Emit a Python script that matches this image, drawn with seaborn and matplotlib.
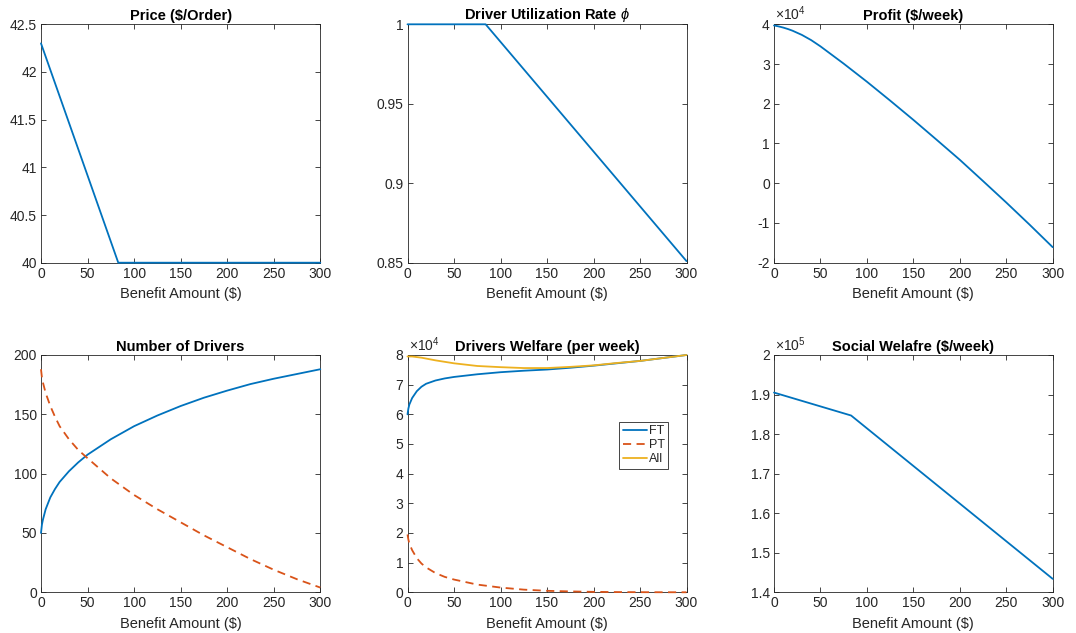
import matplotlib
matplotlib.use("Agg")
import numpy as np
import pandas as pd
import seaborn as sns
import matplotlib.pyplot as plt
from matplotlib.ticker import FuncFormatter, MultipleLocator

# ---------------- data ----------------
benefit_price = [0, 83, 300]
price = [42.3, 40.0, 40.0]

benefit_util = [0, 84, 300]
utilization = [1.0, 1.0, 0.851]

benefit_grid = [0, 1, 2, 5, 10, 15, 20, 30, 40, 50, 75, 100, 125, 150, 175, 200, 225, 250, 275, 300]

profit_x1e4 = [3.97, 3.966, 3.962, 3.947, 3.917, 3.881, 3.838, 3.733, 3.602, 3.445, 3.01, 2.555,
               2.08, 1.595, 1.095, 0.59, 0.055, -0.485, -1.04, -1.61]

drivers_ft = [50, 57, 61, 70, 80, 87, 93, 102, 109.5, 116, 129, 140, 149, 157, 164, 170, 175.5, 180, 184, 188]
drivers_pt = [188, 181, 177, 168, 157, 148, 140, 129, 120, 113, 96, 82, 70, 59, 48, 38, 28, 19, 11, 4]

welfare_ft_x1e4 = [6.0, 6.2, 6.33, 6.55, 6.78, 6.93, 7.03, 7.14, 7.21, 7.26, 7.35, 7.42, 7.47, 7.51,
                   7.57, 7.64, 7.72, 7.8, 7.9, 8.0]
welfare_pt_x1e4 = [1.95, 1.77, 1.64, 1.42, 1.15, 0.97, 0.84, 0.65, 0.52, 0.43, 0.26, 0.16, 0.09, 0.05,
                   0.03, 0.015, 0.008, 0.004, 0.002, 0.001]
welfare_all_x1e4 = [7.95, 7.95, 7.95, 7.95, 7.93, 7.91, 7.88, 7.82, 7.77, 7.72, 7.63, 7.59, 7.56, 7.56,
                    7.6, 7.65, 7.73, 7.8, 7.9, 8.0]

benefit_social = [0, 83, 300]
social_x1e5 = [1.905, 1.847, 1.434]

titles = ["Price (\\$/Order)", r"Driver Utilization Rate $\phi$", "Profit (\\$/week)",
          "Number of Drivers", "Drivers Welfare (per week)", "Social Welafre (\\$/week)"]
xlabel = "Benefit Amount (\\$)"
legend_labels = ["FT", "PT", "All"]

# ---------------- style ----------------
sns.set_style("ticks")
plt.rcParams.update({
    "font.family": ["Liberation Sans", "DejaVu Sans"],
    "mathtext.fontset": "custom",
    "mathtext.rm": "Liberation Sans",
    "mathtext.it": "Liberation Sans:italic",
    "axes.unicode_minus": False,
    "xtick.direction": "in",
    "ytick.direction": "in",
    "xtick.top": True,
    "ytick.right": True,
    "xtick.major.size": 3.5,
    "ytick.major.size": 3.5,
    "xtick.major.width": 0.6,
    "ytick.major.width": 0.6,
    "axes.linewidth": 0.6,
    "axes.edgecolor": "#262626",
    "xtick.color": "#262626",
    "ytick.color": "#262626",
    "xtick.labelsize": 10,
    "ytick.labelsize": 10,
    "xtick.labelcolor": "#262626",
    "ytick.labelcolor": "#262626",
})

BLUE = "#0072BD"
ORANGE = "#D95319"
YELLOW = "#EDB120"
LW = 1.3
LINE_KW = dict(lw=LW, zorder=3, clip_on=False)

W, H = 1076, 633
fig = plt.figure(figsize=(W / 100, H / 100), dpi=100)

cols = [(41, 320.3), (407.5, 686.5), (774, 1052.7)]
rows = [(24.3, 262.7), (355, 592.3)]

axes = []
for r in rows:
    for c in cols:
        ax = fig.add_axes([c[0] / W, 1 - r[1] / H, (c[1] - c[0]) / W, (r[1] - r[0]) / H])
        axes.append(ax)

gfmt = FuncFormatter(lambda v, p: f"{v:g}")


def scaled_fmt(scale):
    return FuncFormatter(lambda v, p: f"{v / scale:g}")


def finish(ax, title, ylim, ystep, scale=None, exp=None):
    ax.set_xlim(0, 300)
    ax.xaxis.set_major_locator(MultipleLocator(50))
    ax.xaxis.set_major_formatter(gfmt)
    ax.set_ylim(*ylim)
    ax.yaxis.set_major_locator(MultipleLocator(ystep))
    if scale is None:
        ax.yaxis.set_major_formatter(gfmt)
    else:
        ax.yaxis.set_major_formatter(scaled_fmt(scale))
        ax.text(0.005, 1.004, r"$\times10^{%d}$" % exp, transform=ax.transAxes,
                ha="left", va="bottom", fontsize=10, color="#262626")
    ax.set_title(title, fontsize=10.5, fontweight="bold", pad=3, color="black")
    ax.set_xlabel(xlabel, fontsize=10.5, labelpad=4.5, color="#262626")
    ax.set_ylabel("")
    ax.tick_params(axis="both", pad=3)
    for s in ax.spines.values():
        s.set_visible(True)


# 1. Price
ax = axes[0]
df = pd.DataFrame({"b": benefit_price, "v": price})
sns.lineplot(data=df, x="b", y="v", ax=ax, color=BLUE, **LINE_KW)
finish(ax, titles[0], (40, 42.5), 0.5)

# 2. Utilization
ax = axes[1]
df = pd.DataFrame({"b": benefit_util, "v": utilization})
sns.lineplot(data=df, x="b", y="v", ax=ax, color=BLUE, **LINE_KW)
finish(ax, titles[1], (0.85, 1.0), 0.05)

# 3. Profit
ax = axes[2]
df = pd.DataFrame({"b": benefit_grid, "v": np.array(profit_x1e4) * 1e4})
sns.lineplot(data=df, x="b", y="v", ax=ax, color=BLUE, **LINE_KW)
finish(ax, titles[2], (-2e4, 4e4), 1e4, scale=1e4, exp=4)

# 4. Number of drivers
ax = axes[3]
df = pd.DataFrame({"b": benefit_grid, "ft": drivers_ft, "pt": drivers_pt})
sns.lineplot(data=df, x="b", y="ft", ax=ax, color=BLUE, **LINE_KW)
sns.lineplot(data=df, x="b", y="pt", ax=ax, color=ORANGE, **LINE_KW)
ax.get_lines()[-1].set_linestyle((0, (4.5, 3)))
finish(ax, titles[3], (0, 200), 50)

# 5. Drivers welfare
ax = axes[4]
df = pd.DataFrame({"b": benefit_grid,
                   "ft": np.array(welfare_ft_x1e4) * 1e4,
                   "pt": np.array(welfare_pt_x1e4) * 1e4,
                   "all": np.array(welfare_all_x1e4) * 1e4})
sns.lineplot(data=df, x="b", y="ft", ax=ax, color=BLUE, label=legend_labels[0], **LINE_KW)
sns.lineplot(data=df, x="b", y="pt", ax=ax, color=ORANGE, label=legend_labels[1], **LINE_KW)
ax.get_lines()[-1].set_linestyle((0, (4.5, 3)))
sns.lineplot(data=df, x="b", y="all", ax=ax, color=YELLOW, label=legend_labels[2], **LINE_KW)
finish(ax, titles[4], (0, 8e4), 1e4, scale=1e4, exp=4)
leg = ax.legend(loc="center right", bbox_to_anchor=(0.935, 0.62), fontsize=9,
                frameon=True, fancybox=False, edgecolor="#262626", framealpha=1,
                handlelength=1.9, handletextpad=0.15, borderpad=0.3, labelspacing=0.15,
                borderaxespad=0)
leg.get_frame().set_linewidth(0.6)
leg.set_zorder(5)

# 6. Social welfare
ax = axes[5]
df = pd.DataFrame({"b": benefit_social, "v": np.array(social_x1e5) * 1e5})
sns.lineplot(data=df, x="b", y="v", ax=ax, color=BLUE, **LINE_KW)
finish(ax, titles[5], (1.4e5, 2.0e5), 0.1e5, scale=1e5, exp=5)

fig.savefig("out.png", dpi=100)
